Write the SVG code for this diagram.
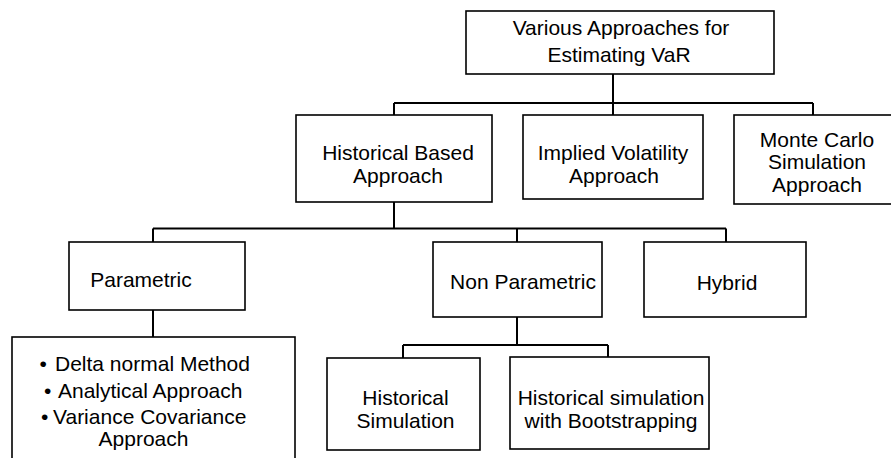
<svg xmlns="http://www.w3.org/2000/svg" width="891" height="458" viewBox="0 0 891 458">
<style>
.box{fill:#fff;stroke:#000;stroke-width:1.6}
.con{fill:none;stroke:#000;stroke-width:2}
text{font-family:"Liberation Sans",Arial,sans-serif;font-size:21px;fill:#000}
.m{text-anchor:middle}
</style>
<rect width="891" height="458" fill="#fff"/>
<g id="connectors">
<path class="con" d="M613,74V103M394,103H813M394,103V115M613,103V115M813,103V115"/>
<path class="con" d="M394,202V228.5M153,228.5H726M153,228.5V242M517,228.5V242M726,228.5V242"/>
<path class="con" d="M153,310V337"/>
<path class="con" d="M517,317V345M403,345H608M403,345V358M608,345V358"/>
</g>
<g id="root">
<rect class="box" x="466" y="11" width="308" height="63"/>
<text class="m" x="621" y="35">Various Approaches for</text>
<text class="m" x="619" y="62">Estimating VaR</text>
</g>
<g id="historical">
<rect class="box" x="296" y="115" width="196" height="87"/>
<text class="m" x="398" y="159.5">Historical Based</text>
<text class="m" x="398" y="183">Approach</text>
</g>
<g id="implied">
<rect class="box" x="523" y="115" width="180" height="84"/>
<text class="m" x="613" y="160">Implied Volatility</text>
<text class="m" x="614" y="183">Approach</text>
</g>
<g id="montecarlo">
<rect class="box" x="734" y="115" width="170" height="89"/>
<text class="m" x="817" y="146.5">Monte Carlo</text>
<text class="m" x="817" y="169">Simulation</text>
<text class="m" x="817" y="191.5">Approach</text>
</g>
<g id="parametric">
<rect class="box" x="69" y="242" width="176" height="68"/>
<text class="m" x="141" y="287">Parametric</text>
</g>
<g id="nonparametric">
<rect class="box" x="433" y="242" width="169" height="75"/>
<text class="m" x="523" y="288.5">Non Parametric</text>
</g>
<g id="hybrid">
<rect class="box" x="644" y="242" width="162" height="75"/>
<text class="m" x="727" y="289.5">Hybrid</text>
</g>
<g id="methods">
<rect class="box" x="12" y="337" width="283" height="140"/>
<text x="39.5" y="371">•</text><text x="55" y="371">Delta normal Method</text>
<text x="44" y="397.5">•</text><text x="58" y="397.5">Analytical Approach</text>
<text x="41" y="424">•</text><text x="53" y="424">Variance Covariance</text>
<text class="m" x="143.5" y="446">Approach</text>
</g>
<g id="histsim">
<rect class="box" x="327" y="358" width="153" height="92"/>
<text class="m" x="405.5" y="404.5">Historical</text>
<text class="m" x="405.5" y="427.5">Simulation</text>
</g>
<g id="bootstrap">
<rect class="box" x="510" y="357" width="199" height="92"/>
<text class="m" x="611" y="405">Historical simulation</text>
<text class="m" x="611" y="427.5">with Bootstrapping</text>
</g>
</svg>
